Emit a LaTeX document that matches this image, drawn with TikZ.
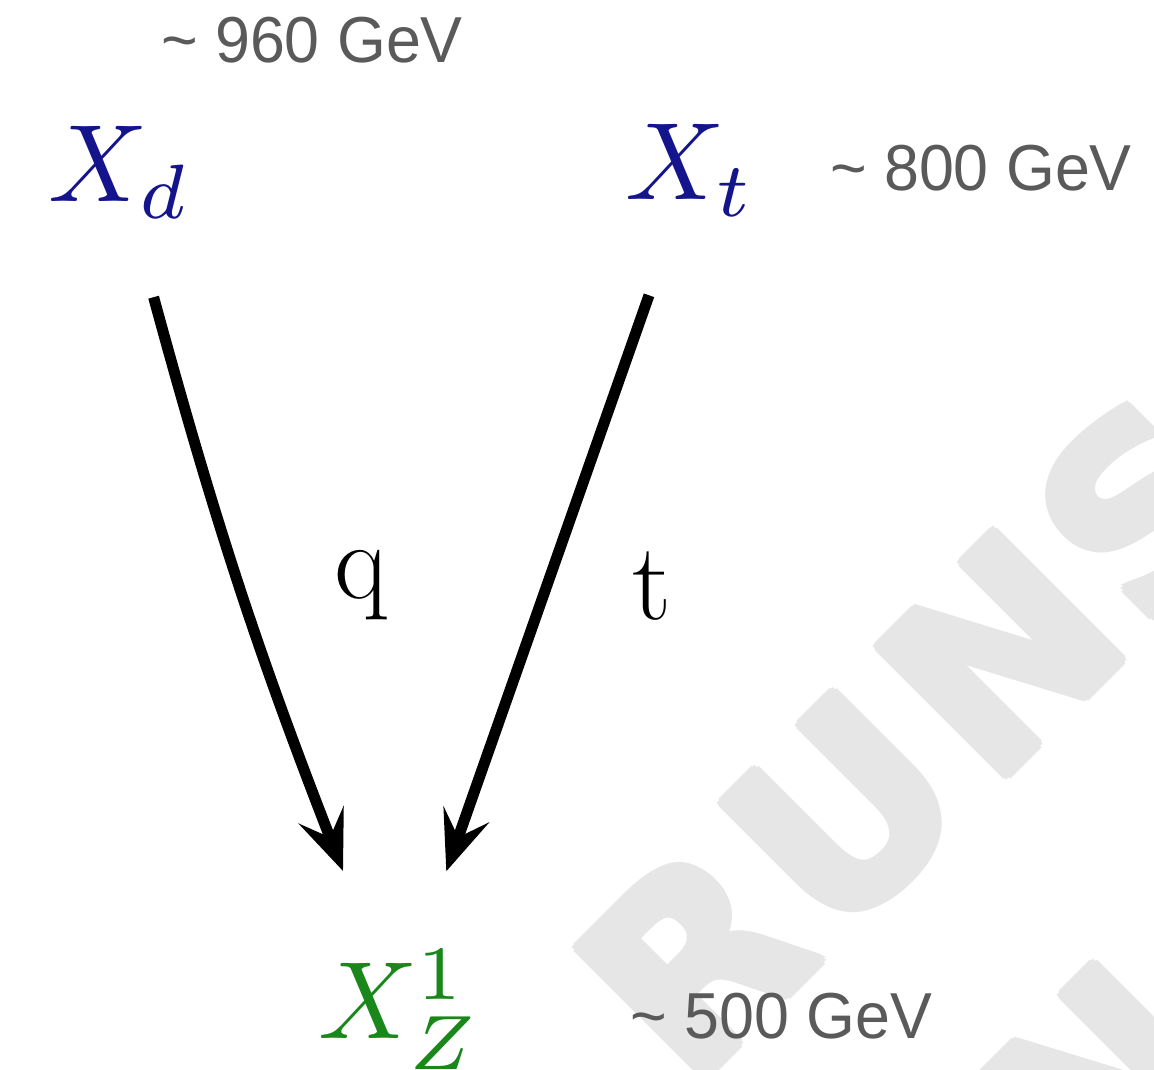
\documentclass[tikz,border=0pt]{standalone}
\usepackage{graphicx}
\usepackage{fontspec}
\newfontfamily\gevfont{Liberation Sans}
\newfontfamily\wmfont{DejaVu Sans}
\usetikzlibrary{arrows.meta}
\definecolor{gtext}{RGB}{90,90,90}
\definecolor{pblue}{RGB}{20,20,140}
\definecolor{pgreen}{RGB}{25,135,25}
\definecolor{wmgray}{RGB}{230,230,230}
\newcommand{\bigmath}[1]{\scalebox{11}{$#1$}}
\newcommand{\gevtext}[1]{\scalebox{0.965}[1]{#1}}
\begin{document}
\begin{tikzpicture}[x=1pt,y=1pt,
  gev/.style={anchor=base west, inner sep=0pt, text=gtext, font=\gevfont\fontsize{65}{78}\selectfont},
  part/.style={anchor=base west, inner sep=0pt},
  lab/.style={anchor=base west, inner sep=0pt, font=\fontsize{110}{132}\selectfont},
  wm/.style={anchor=base west, inner sep=0pt, rotate=45, text=wmgray, font=\wmfont\bfseries\fontsize{250}{300}\selectfont},
  decay/.style={line width=11pt, -{Stealth[length=60pt,width=48pt,inset=24pt]}}
]
\useasboundingbox (0,0) rectangle (1154,1070);
\begin{scope}
\clip (0,0) rectangle (1154,1070);
\foreach \ch/\px/\py [count=\i] in {R/689.7/-22.9, U/834.5/121.8, N/990.5/277.9, S/1145.9/433.2, N/1090.8/-154.6} {
  \foreach \a [count=\j] in {0,45,...,315} {
    \node[wm] (wm\i-\j) at ({\px+5*cos(\a)},{\py+5*sin(\a)}) {\ch};
  }
  \node[wm] (wm\i) at (\px,\py) {\ch};
}
\end{scope}
% particles
\node[part, text=pblue] (Xd) at (48.5,868) {\bigmath{X_d}};
\node[part, text=pblue] (Xt) at (625,870) {\bigmath{X_t}};
\node[part, text=pgreen] (XZ) at (318,31) {\bigmath{X_Z^1}};
% masses
\node[gev] (m960) at (161,1007.3) {\gevtext{\char"7E\ 960 GeV}};
\node[gev] (m800) at (830,879) {\gevtext{\char"7E\ 800 GeV}};
\node[gev] (m500) at (630.5,31) {\gevtext{\char"7E\ 500 GeV}};
% decays
\coordinate (qs) at (153.6,772.8);
\coordinate (qe) at (343,199);
\coordinate (ts) at (649,774.7);
\coordinate (te) at (446.3,198.7);
\draw[decay] (qs) to[bend right=3] (qe);
\draw[decay] (ts) -- (te);
\node[lab] (lq) at (334,471.5) {q};
\node[lab] (lt) at (632,450.6) {t};
\end{tikzpicture}
\end{document}
